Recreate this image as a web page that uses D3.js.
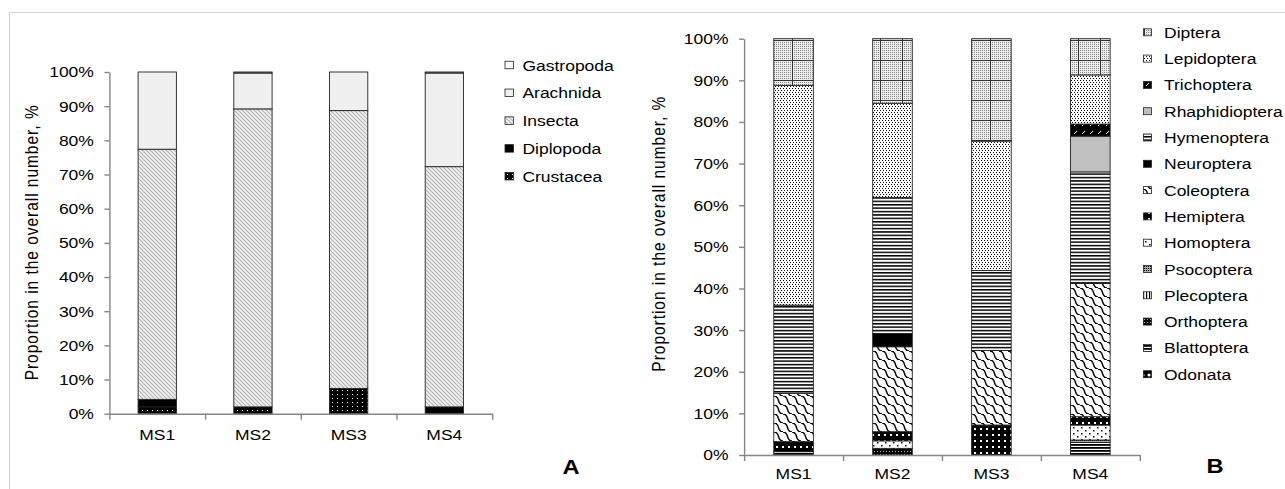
<!DOCTYPE html>
<html><head><meta charset="utf-8">
<script src="https://cdn.jsdelivr.net/npm/d3@7"></script>
<style>body{margin:0;background:#fff} text{font-family:"Liberation Sans",Arial,sans-serif;fill:#000}</style>
</head><body>
<svg id="c" width="1285" height="489"></svg>
<script>
// ---------- DATA ----------
const categories = ["MS1", "MS2", "MS3", "MS4"];
const yTickValues = [0, 10, 20, 30, 40, 50, 60, 70, 80, 90, 100];

// Panel A (stack order bottom -> top)
const seriesA = ["Crustacea", "Diplopoda", "Insecta", "Arachnida", "Gastropoda"];
const crustacea  = [2.0, 2.0, 7.4, 0];
const diplopoda  = [2.2, 0, 0, 2.0];
const insecta    = [73.2, 87.2, 81.3, 70.3];
const arachnida  = [22.6, 10.5, 11.3, 27.4];
const gastropoda = [0, 0.3, 0, 0.3];

// Panel B (stack order bottom -> top)
const seriesB = ["Odonata", "Blattoptera", "Orthoptera", "Plecoptera", "Psocoptera", "Homoptera",
  "Hemiptera", "Coleoptera", "Neuroptera", "Hymenoptera", "Rhaphidioptera", "Trichoptera",
  "Lepidoptera", "Diptera"];
const odonata        = [0, 0, 0, 0];
const blattoptera    = [0.8, 0, 0, 3.0];
const orthoptera     = [0, 1.6, 0, 0];
const plecoptera     = [0, 0, 0, 0];
const psocoptera     = [0, 0, 0, 0.6];
const homoptera      = [0, 1.8, 0, 3.6];
const hemiptera      = [2.4, 2.2, 7.2, 2.0];
const coleoptera     = [11.6, 20.4, 17.9, 32.0];
const neuroptera     = [0, 3.2, 0, 0];
const hymenoptera    = [21.2, 32.7, 19.2, 26.8];
const rhaphidioptera = [0, 0, 0, 8.6];
const trichoptera    = [0, 0, 0, 2.9];
const lepidoptera    = [52.8, 22.6, 31.1, 11.8];
const diptera        = [11.2, 15.5, 24.6, 8.7];

const valuesA = {Crustacea: crustacea, Diplopoda: diplopoda, Insecta: insecta, Arachnida: arachnida, Gastropoda: gastropoda};
const valuesB = {Odonata: odonata, Blattoptera: blattoptera, Orthoptera: orthoptera, Plecoptera: plecoptera,
  Psocoptera: psocoptera, Homoptera: homoptera, Hemiptera: hemiptera, Coleoptera: coleoptera,
  Neuroptera: neuroptera, Hymenoptera: hymenoptera, Rhaphidioptera: rhaphidioptera,
  Trichoptera: trichoptera, Lepidoptera: lepidoptera, Diptera: diptera};

const yTitle = "Proportion in the overall number,  %";

// ---------- SVG / PATTERNS ----------
const svg = d3.select("#c");
const defs = svg.append("defs");
const SX = 1.13, FS = 15.5;

function pattern(id, w, h, bg, draw, tf) {
  const p = defs.append("pattern").attr("id", id).attr("patternUnits", "userSpaceOnUse")
    .attr("width", w).attr("height", h);
  if (tf) p.attr("patternTransform", tf);
  if (bg) p.append("rect").attr("width", w).attr("height", h).attr("fill", bg);
  if (draw) draw(p);
}
const r = (p, x, y, w, h, f) => p.append("rect").attr("x", x).attr("y", y).attr("width", w).attr("height", h).attr("fill", f);
const pth = (p, d, s, sw) => p.append("path").attr("d", d).attr("stroke", s).attr("stroke-width", sw).attr("fill", "none");

pattern("pInsecta", 4, 4, "#f4f4f4", p => pth(p, "M-1,-1L5,5M-1,3L1,5M3,-1L5,1", "#b4b4b4", 1.2));
pattern("pCrust", 5, 4, "#000", p => r(p, 2, 2, 1, 1, "#fff"));
pattern("pDots", 2, 2, "#ececec", p => r(p, 0, 0, 1, 1, "#8a8a8a"));
pattern("pDiptera", 22, 20, null, p => { r(p, 0, 0, 22, 20, "url(#pDots)"); pth(p, "M0.5,0V20M0,0.5H22", "#333", 1); });
pattern("pLepi", 6, 4, "#fff", p => { r(p, 0, 0, 1, 1, "#000"); r(p, 3, 0, 1, 1, "#000"); r(p, 1, 2, 1, 1, "#000"); r(p, 4, 2, 1, 1, "#000"); });
pattern("pTrich", 8, 8, "#000", p => pth(p, "M2,6L5,3", "#fff", 1));
pattern("pHymen", 4, 3.4, "#fff", p => r(p, 0, 0, 4, 1.5, "#000"));
pattern("pColeo", 9, 9, "#fff", p => pth(p, "M0,0 C7,0 2,9 9,9 M-9,0 C-2,0 -7,9 0,9 M9,0 C16,0 11,9 18,9", "#000", 1.4));
pattern("pHemi", 6, 6, "#000", p => r(p, 2, 2, 2, 2, "#fff"));
pattern("pHomo", 8, 6, "#fff", p => { r(p, 1, 1, 1.5, 1.5, "#000"); r(p, 5, 4, 1.5, 1.5, "#000"); });
pattern("pPsoco", 2, 2, "#aaa", p => r(p, 0, 0, 1, 1, "#000"));
pattern("pPleco", 3, 4, "#fff", p => r(p, 0, 0, 1.2, 4, "#000"));
pattern("pOrtho", 3, 3, "#000", p => r(p, 1, 1, 1, 1, "#bbb"));
pattern("pBlatto", 4, 3, "#fff", p => r(p, 0, 0, 4, 1.8, "#000"));
pattern("pOdon", 6, 6, "#000", p => p.append("circle").attr("cx", 3).attr("cy", 3).attr("r", 1.6).attr("fill", "#fff"));

const fillA = {Crustacea: "url(#pCrust)", Diplopoda: "#000", Insecta: "url(#pInsecta)", Arachnida: "#f0f0f0", Gastropoda: "#fff"};
const fillB = {Odonata: "url(#pOdon)", Blattoptera: "url(#pBlatto)", Orthoptera: "url(#pOrtho)", Plecoptera: "url(#pPleco)",
  Psocoptera: "url(#pPsoco)", Homoptera: "url(#pHomo)", Hemiptera: "url(#pHemi)", Coleoptera: "url(#pColeo)",
  Neuroptera: "#000", Hymenoptera: "url(#pHymen)", Rhaphidioptera: "#c0c0c0", Trichoptera: "url(#pTrich)",
  Lepidoptera: "url(#pLepi)", Diptera: "url(#pDiptera)"};

// outer frame
svg.append("rect").attr("x", 9.5).attr("y", 12.5).attr("width", 1300).attr("height", 500)
  .attr("fill", "none").attr("stroke", "#d4d4d4");

function stxt(g, x, y, str, anchor, size, weight) {
  const t = g.append("text").attr("transform", `translate(${x},${y}) scale(${SX},1)`)
    .attr("font-size", size || FS).attr("text-anchor", anchor || "start").text(str);
  if (weight) t.attr("font-weight", weight);
  return t;
}

function panel(cfg) {
  const g = svg.append("g");
  const x = d3.scaleBand().domain(categories).range([cfg.x0, cfg.x1]).paddingInner(0.6).paddingOuter(0.3);
  const y = d3.scaleLinear().domain([0, 100]).range([cfg.y0, cfg.y1]);
  const xb = d3.scaleLinear().domain([0, categories.length]).range([cfg.x0, cfg.x1]);

  const rows = categories.map((c, i) => {
    const o = {cat: c};
    cfg.series.forEach(s => o[s] = cfg.values[s][i]);
    return o;
  });
  const stacked = d3.stack().keys(cfg.series)(rows);

  const layers = g.append("g").selectAll("g").data(stacked).join("g").attr("fill", d => cfg.fills[d.key]);
  layers.selectAll("rect").data(d => d.filter(v => v[1] - v[0] > 0)).join("rect")
    .attr("x", d => x(d.data.cat)).attr("width", x.bandwidth())
    .attr("y", d => y(d[1])).attr("height", d => y(d[0]) - y(d[1]))
    .attr("stroke", "#222").attr("stroke-width", 0.9);

  // y axis
  const ya = g.append("g").attr("transform", `translate(${cfg.x0},0)`)
    .call(d3.axisLeft(y).tickValues(yTickValues).tickFormat(d => d + "%").tickSize(5).tickSizeOuter(0));
  ya.selectAll("path,line").attr("stroke", "#858585").attr("stroke-width", 1.4);
  ya.selectAll("text").attr("font-size", FS).attr("font-family", null)
    .attr("x", -15.5 / SX).attr("transform", `scale(${SX},1)`);

  // x axis boundary ticks
  const xa = g.append("g").attr("transform", `translate(0,${cfg.y0})`)
    .call(d3.axisBottom(xb).tickValues(d3.range(categories.length + 1)).tickFormat("").tickSize(6).tickSizeOuter(0));
  xa.selectAll("path,line").attr("stroke", "#858585").attr("stroke-width", 1.4);
  // x labels
  const xl = g.append("g").attr("transform", `translate(0,${cfg.y0})`)
    .call(d3.axisBottom(x).tickSize(0));
  xl.select(".domain").remove();
  xl.selectAll("text").attr("font-size", FS).attr("font-family", null)
    .attr("y", cfg.labelDy).attr("dy", 0).attr("transform", `scale(${SX},1)`)
    .attr("x", 0);

  // title
  g.append("text").attr("transform", `translate(${cfg.titleX},${(cfg.y0 + cfg.y1) / 2 + cfg.titleShift}) scale(${SX},1) rotate(-90)`)
    .attr("font-size", FS).attr("text-anchor", "middle")
    .attr("textLength", 275).attr("lengthAdjust", "spacing").text(yTitle);

  // legend
  const leg = cfg.series.slice().reverse();
  leg.forEach((s, i) => {
    const cy = cfg.legY0 + i * cfg.legStep;
    g.append("rect").attr("x", cfg.legX).attr("y", cy - cfg.mh / 2).attr("width", cfg.mw).attr("height", cfg.mh)
      .attr("fill", cfg.fills[s]).attr("stroke", "#222").attr("stroke-width", 0.8);
    stxt(g, cfg.legTextX, cy + 5.5, s);
  });

  stxt(g, cfg.letterX, cfg.letterY, cfg.letter, "middle", 21, "bold");
}

panel({series: seriesA, values: valuesA, fills: fillA,
  x0: 109.4, x1: 492.2, y0: 413.7, y1: 72, labelDy: 26, titleX: 37.5, titleShift: 0,
  legX: 505, legTextX: 522.4, legY0: 65, legStep: 27.8, mw: 8.5, mh: 7.5,
  letter: "A", letterX: 571, letterY: 474});

panel({series: seriesB, values: valuesB, fills: fillB,
  x0: 744.1, x1: 1139.8, y0: 455, y1: 38.7, labelDy: 24, titleX: 664.5, titleShift: -12.7,
  legX: 1143.5, legTextX: 1164, legY0: 32.3, legStep: 26.3, mw: 8, mh: 7,
  letter: "B", letterX: 1215, letterY: 473});
</script>
</body></html>
